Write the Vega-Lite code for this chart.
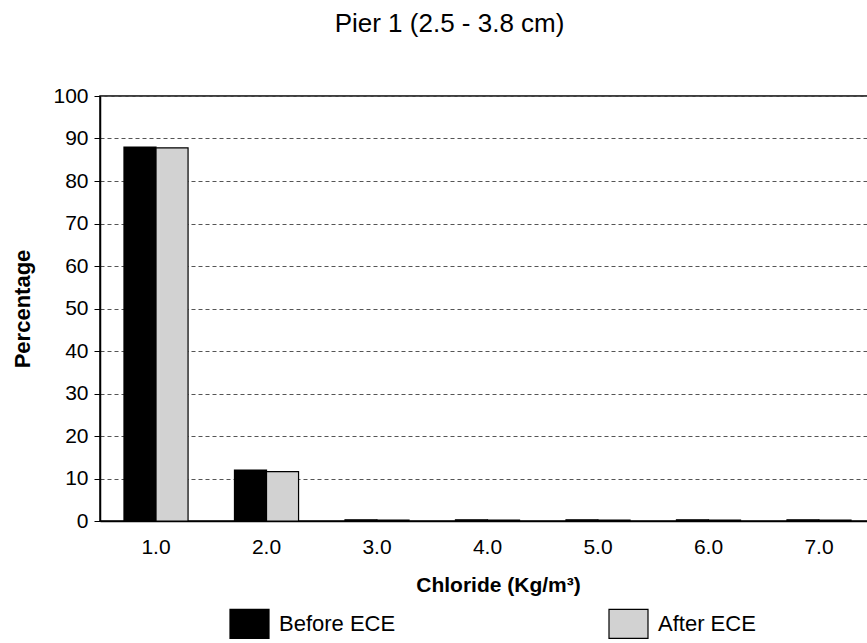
{
  "$schema": "https://vega.github.io/schema/vega-lite/v6.json",
  "autosize": {"type": "none"},
  "padding": {"left": 100, "top": 96, "right": 0, "bottom": 122},
  "width": 775,
  "height": 425,
  "title": {
    "text": "Pier 1 (2.5 - 3.8 cm)",
    "font": "Liberation Sans",
    "fontSize": 26,
    "fontWeight": "normal",
    "color": "#000000",
    "dx": -38,
    "offset": 48
  },
  "config": {
    "view": {"stroke": "#000000", "strokeWidth": 1.5},
    "font": "Liberation Sans"
  },
  "data": {
    "values": [
      {"chloride": "1.0", "series": "Before ECE", "pct": 88},
      {"chloride": "1.0", "series": "After ECE", "pct": 87.8},
      {"chloride": "2.0", "series": "Before ECE", "pct": 12},
      {"chloride": "2.0", "series": "After ECE", "pct": 11.6},
      {"chloride": "3.0", "series": "Before ECE", "pct": 0.3},
      {"chloride": "3.0", "series": "After ECE", "pct": 0.2},
      {"chloride": "4.0", "series": "Before ECE", "pct": 0.3},
      {"chloride": "4.0", "series": "After ECE", "pct": 0.2},
      {"chloride": "5.0", "series": "Before ECE", "pct": 0.3},
      {"chloride": "5.0", "series": "After ECE", "pct": 0.2},
      {"chloride": "6.0", "series": "Before ECE", "pct": 0.3},
      {"chloride": "6.0", "series": "After ECE", "pct": 0.2},
      {"chloride": "7.0", "series": "Before ECE", "pct": 0.3},
      {"chloride": "7.0", "series": "After ECE", "pct": 0.2}
    ]
  },
  "mark": {"type": "bar", "stroke": "#000000", "strokeWidth": 1.2},
  "encoding": {
    "x": {
      "field": "chloride",
      "type": "nominal",
      "scale": {"paddingInner": 0.42, "paddingOuter": 0.217},
      "axis": {
        "title": "Chloride (Kg/m³)",
        "titleFont": "Liberation Sans",
        "titleFontSize": 21,
        "titleFontWeight": "bold",
        "titleColor": "#000000",
        "titlePadding": 17,
        "titleX": 398,
        "titleAlign": "center",
        "labelAngle": 0,
        "labelFontSize": 21,
        "labelColor": "#000000",
        "labelPadding": 15,
        "ticks": false,
        "domainColor": "#000000",
        "domainWidth": 1.5,
        "grid": false
      }
    },
    "xOffset": {
      "field": "series",
      "type": "nominal",
      "sort": ["Before ECE", "After ECE"],
      "scale": {"paddingInner": 0, "paddingOuter": 0}
    },
    "y": {
      "field": "pct",
      "type": "quantitative",
      "scale": {"domain": [0, 100], "nice": false},
      "axis": {
        "title": "Percentage",
        "titleFont": "Liberation Sans",
        "titleFontSize": 22,
        "titleFontWeight": "bold",
        "titleColor": "#000000",
        "titlePadding": 18,
        "values": [0, 10, 20, 30, 40, 50, 60, 70, 80, 90, 100],
        "labelFontSize": 21,
        "labelColor": "#000000",
        "labelPadding": 6,
        "tickSize": 6,
        "tickColor": "#000000",
        "domainColor": "#000000",
        "domainWidth": 1.5,
        "grid": true,
        "gridColor": "#555555",
        "gridDash": [4, 3],
        "gridWidth": 1
      }
    },
    "color": {
      "field": "series",
      "type": "nominal",
      "sort": ["Before ECE", "After ECE"],
      "scale": {"domain": ["Before ECE", "After ECE"], "range": ["#000000", "#d2d2d2"]},
      "legend": {
        "title": null,
        "orient": "none",
        "legendX": 129,
        "legendY": 507,
        "direction": "horizontal",
        "columns": 2,
        "columnPadding": 210,
        "padding": 0,
        "labelFontSize": 22,
        "labelColor": "#000000",
        "labelOffset": 9,
        "symbolType": "M-1,-0.744H1V0.744H-1Z",
        "symbolSize": 1521,
        "symbolStrokeColor": "#000000",
        "symbolStrokeWidth": 1.2,
        "symbolOpacity": 1
      }
    }
  }
}
